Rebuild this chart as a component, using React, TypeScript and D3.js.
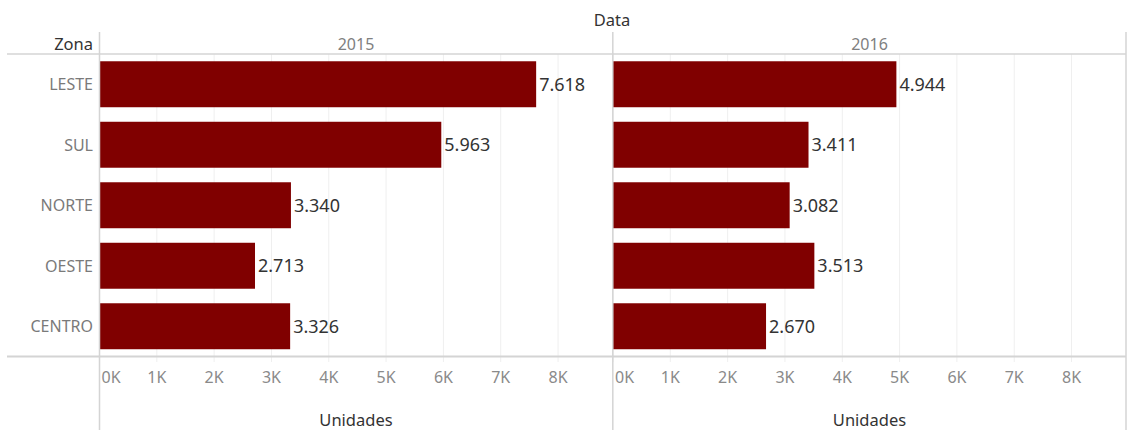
import React from "react";
import * as d3 from "d3";

const zonas = ["LESTE", "SUL", "NORTE", "OESTE", "CENTRO"];
const anos = ["2015", "2016"];
const unidades2015 = [7618, 5963, 3340, 2713, 3326];
const unidades2016 = [4944, 3411, 3082, 3513, 2670];
const tickValues = [0, 1000, 2000, 3000, 4000, 5000, 6000, 7000, 8000];

const W = 1128;
const H = 430;
const FONT = "'Noto Sans', sans-serif";

const ptBR = d3.formatLocale({ decimal: ",", thousands: ".", grouping: [3], currency: ["R$", ""] });
const fmt = ptBR.format(",d");

export default function App() {
  const top = 54;
  const bottom = 356.5;
  const y = d3.scaleBand<string>().domain(zonas).range([top, bottom]).paddingInner(0.24).paddingOuter(0.12);
  const panes = [
    { ano: anos[0], values: unidades2015, x: d3.scaleLinear().domain([0, 8950]).range([99.5, 612.5]) },
    { ano: anos[1], values: unidades2016, x: d3.scaleLinear().domain([0, 8950]).range([613, 1126]) },
  ];
  const lineColor = "#d4d4d4";
  const gridColor = "#efefef";
  return (
    <svg width={W} height={H} style={{ position: "absolute", left: 0, top: 0, background: "#fff" }} fontFamily={FONT}>
      {panes.map((p) =>
        tickValues.map((t) => (
          <line key={p.ano + t} x1={p.x(t)} x2={p.x(t)} y1={top} y2={362} stroke={gridColor} strokeWidth={1} />
        ))
      )}
      {panes.map((p) =>
        zonas.map((z, i) => (
          <g key={p.ano + z}>
            <rect x={p.x(0)} y={y(z)} width={p.x(p.values[i]) - p.x(0)} height={y.bandwidth()} fill="#800000" />
            <text x={p.x(p.values[i]) + 3} y={(y(z) as number) + y.bandwidth() / 2} dy="0.36em" fontSize={18} fill="#333">
              {fmt(p.values[i])}
            </text>
          </g>
        ))
      )}
      {zonas.map((z) => (
        <text key={z} x={93} y={(y(z) as number) + y.bandwidth() / 2} dy="0.36em" textAnchor="end" fontSize={16} fill="#7a7a7a">
          {z}
        </text>
      ))}
      <line x1={7} x2={1126} y1={top} y2={top} stroke={lineColor} strokeWidth={1.5} />
      <line x1={7} x2={1126} y1={bottom} y2={bottom} stroke={lineColor} strokeWidth={2} />
      <line x1={99.5} x2={99.5} y1={32} y2={H} stroke={lineColor} strokeWidth={1.5} />
      <line x1={612.8} x2={612.8} y1={32} y2={H} stroke={lineColor} strokeWidth={1.5} />
      <line x1={1126} x2={1126} y1={32} y2={H} stroke={lineColor} strokeWidth={1.5} />
      <text x={612} y={26} textAnchor="middle" fontSize={16.5} fill="#333">Data</text>
      <text x={93} y={50} textAnchor="end" fontSize={16.5} fill="#333">Zona</text>
      {panes.map((p) => (
        <text key={"h" + p.ano} x={(p.x.range()[0] + p.x.range()[1]) / 2} y={50} textAnchor="middle" fontSize={16} fill="#808080">
          {p.ano}
        </text>
      ))}
      {panes.map((p) =>
        tickValues.map((t) => (
          <text key={"t" + p.ano + t} x={t === 0 ? p.x(0) + 2 : p.x(t)} y={383} textAnchor={t === 0 ? "start" : "middle"} fontSize={16} fill="#8a8a8a">
            {t / 1000 + "K"}
          </text>
        ))
      )}
      {panes.map((p) => (
        <text key={"u" + p.ano} x={(p.x.range()[0] + p.x.range()[1]) / 2} y={426} textAnchor="middle" fontSize={16.5} fill="#333">
          Unidades
        </text>
      ))}
    </svg>
  );
}
